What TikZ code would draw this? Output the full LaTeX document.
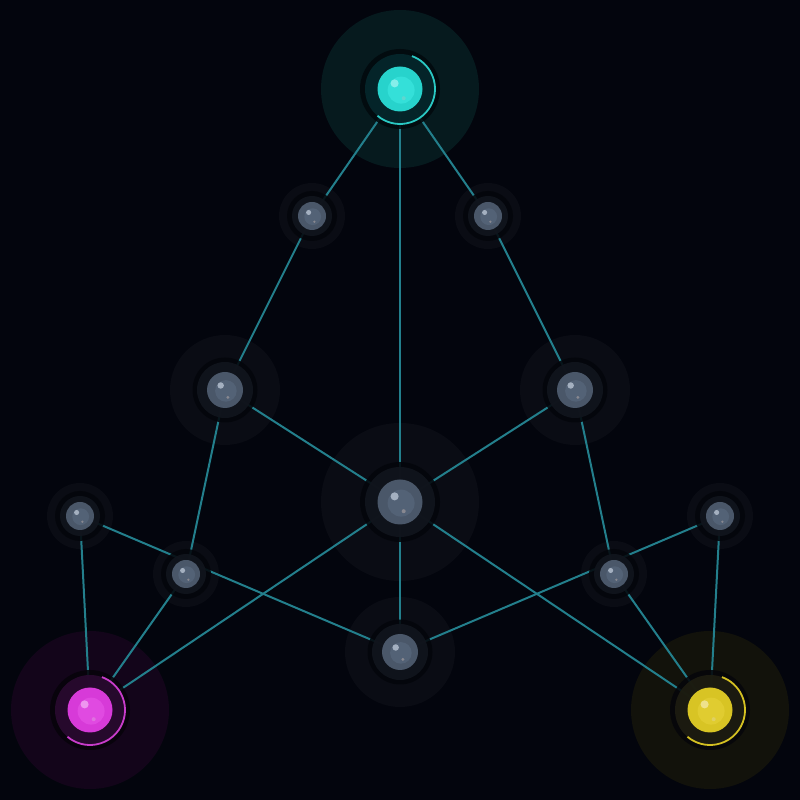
\documentclass[tikz,border=0pt]{standalone}
\pgfdeclarelayer{bglayer}
\pgfdeclarelayer{halolayer}
\pgfdeclarelayer{edgelayer}
\pgfsetlayers{bglayer,halolayer,edgelayer,main}
\definecolor{bgc}{HTML}{03050D}
\definecolor{edgec}{HTML}{237F8C}
% gray palette
\definecolor{grayhalo}{HTML}{0A0C14}
\definecolor{grayring}{HTML}{04060B}
\definecolor{graydisc}{HTML}{11151D}
\definecolor{grayball}{HTML}{4A5769}
\definecolor{grayinner}{HTML}{536276}
\definecolor{grayhi}{HTML}{A4B0C0}
\definecolor{graydot}{HTML}{888890}
\definecolor{grayarc}{HTML}{4A5769}
% teal palette
\definecolor{tealhalo}{HTML}{061A1E}
\definecolor{tealring}{HTML}{020A0E}
\definecolor{tealdisc}{HTML}{05272C}
\definecolor{tealball}{HTML}{27D3CC}
\definecolor{tealinner}{HTML}{34E0D9}
\definecolor{tealhi}{HTML}{86EEEA}
\definecolor{tealdot}{HTML}{5FD6D0}
\definecolor{tealarc}{HTML}{2AC8C3}
% magenta palette
\definecolor{maghalo}{HTML}{13051A}
\definecolor{magring}{HTML}{07030B}
\definecolor{magdisc}{HTML}{2A0A30}
\definecolor{magball}{HTML}{D73AD8}
\definecolor{maginner}{HTML}{E04AE1}
\definecolor{maghi}{HTML}{EE95EF}
\definecolor{magdot}{HTML}{E070E0}
\definecolor{magarc}{HTML}{C83CCA}
% yellow palette
\definecolor{yelhalo}{HTML}{12120B}
\definecolor{yelring}{HTML}{06060A}
\definecolor{yeldisc}{HTML}{1E1D11}
\definecolor{yelball}{HTML}{D8C424}
\definecolor{yelinner}{HTML}{E0CC30}
\definecolor{yelhi}{HTML}{EEE18C}
\definecolor{yeldot}{HTML}{E0D060}
\definecolor{yelarc}{HTML}{D4C022}
\tikzset{
  edge/.style={draw=edgec, line width=2pt},
}
% name, position, halo r, ring r, disc r, ball r, palette
\newcommand\gnode[7]{%
  \node[circle, inner sep=0pt, minimum size=#4*2pt, fill=#7ring, fill opacity=.88] (#1) at (#2) {};
  \begin{pgfonlayer}{halolayer}\fill[#7halo] (#1.center) circle (#3);\end{pgfonlayer}
  \fill[#7disc, opacity=.9] (#1.center) circle (#5);
  \fill[#7ball] (#1.center) circle (#6);
  \fill[#7inner] ([shift={(0.05*#6,-0.05*#6)}]#1.center) circle (0.6*#6);
  \fill[#7hi] ([shift={(-0.24*#6,0.25*#6)}]#1.center) circle (0.18*#6);
  \fill[#7dot] ([shift={(0.165*#6,-0.41*#6)}]#1.center) circle (0.09*#6);
}
\newcommand\garc[2]{%
  \draw[#2arc, line width=1.8pt] ([shift={(70:35)}]#1.center) arc[start angle=70, end angle=-130, radius=35];
}
\begin{document}
\begin{tikzpicture}[x=1pt,y=1pt]
\begin{pgfonlayer}{bglayer}
\fill[bgc] (0,0) rectangle (800,800);
\end{pgfonlayer}
\useasboundingbox (0,0) rectangle (800,800);
% large nodes
\gnode{top}{400,711}{79}{40}{35}{22.5}{teal}
\gnode{cen}{400,298}{79}{40}{35}{22.5}{gray}
\gnode{mag}{90,90}{79}{40}{35}{22.5}{mag}
\gnode{yel}{710,90}{79}{40}{35}{22.5}{yel}
\garc{top}{teal}
\garc{mag}{mag}
\garc{yel}{yel}
% medium nodes
\gnode{ml}{225,410}{55}{32.5}{28}{18}{gray}
\gnode{mr}{575,410}{55}{32.5}{28}{18}{gray}
\gnode{mb}{400,148}{55}{32.5}{28}{18}{gray}
% small nodes
\gnode{sl}{312,584}{33}{25}{20}{14}{gray}
\gnode{sr}{488,584}{33}{25}{20}{14}{gray}
\gnode{fl}{80,284}{33}{25}{20}{14}{gray}
\gnode{fr}{720,284}{33}{25}{20}{14}{gray}
\gnode{il}{186,226}{33}{25}{20}{14}{gray}
\gnode{ir}{614,226}{33}{25}{20}{14}{gray}
% edges
\begin{pgfonlayer}{edgelayer}
\draw[edge] (top.center) -- (sl.center);
\draw[edge] (top.center) -- (sr.center);
\draw[edge] (top.center) -- (cen.center);
\draw[edge] (sl.center) -- (ml.center);
\draw[edge] (sr.center) -- (mr.center);
\draw[edge] (ml.center) -- (cen.center);
\draw[edge] (mr.center) -- (cen.center);
\draw[edge] (ml.center) -- (il.center);
\draw[edge] (mr.center) -- (ir.center);
\draw[edge] (fl.center) -- (mb.center);
\draw[edge] (fr.center) -- (mb.center);
\draw[edge] (il.center) -- (mag.center);
\draw[edge] (ir.center) -- (yel.center);
\draw[edge] (fl.center) -- (mag.center);
\draw[edge] (fr.center) -- (yel.center);
\draw[edge] (cen.center) -- (mb.center);
\draw[edge] (cen.center) -- (mag.center);
\draw[edge] (cen.center) -- (yel.center);
\end{pgfonlayer}
\end{tikzpicture}
\end{document}
